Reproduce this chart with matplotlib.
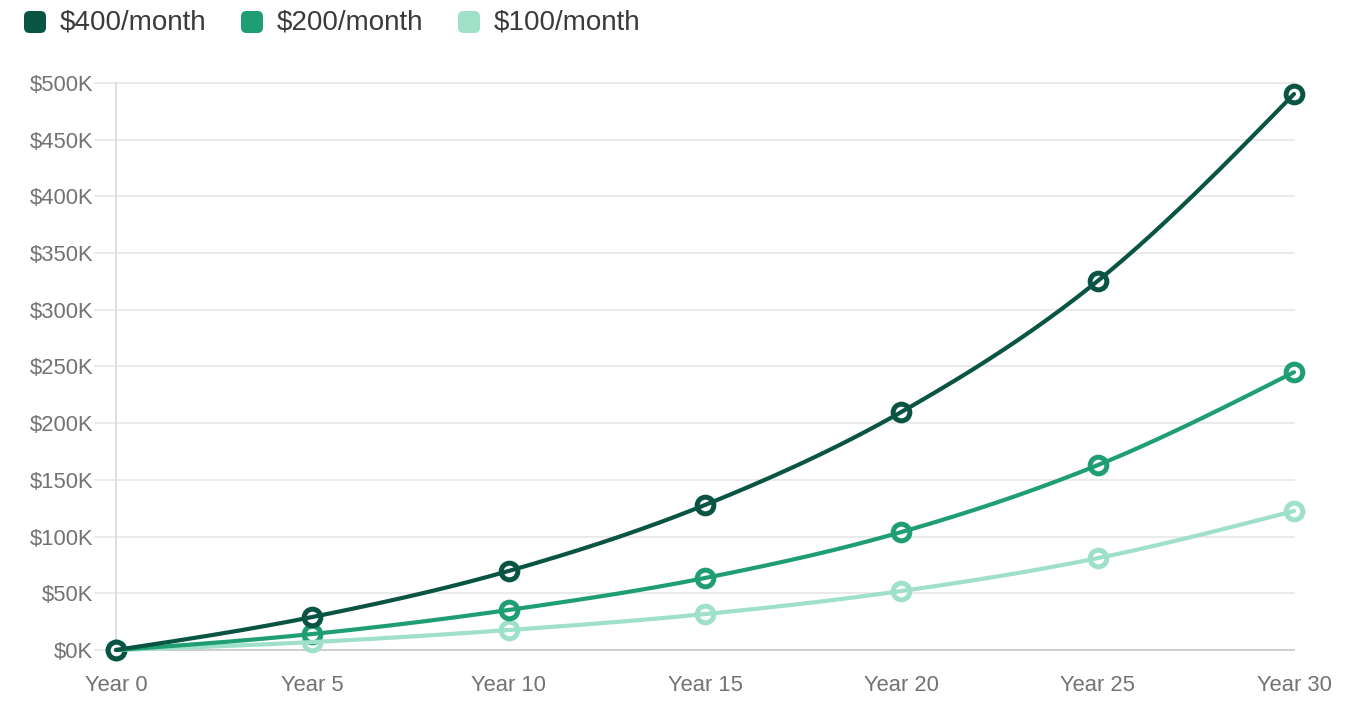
import numpy as np
import matplotlib
matplotlib.use("Agg")
import matplotlib.pyplot as plt
from matplotlib.patches import FancyBboxPatch

# ---- data ----
years = [0, 5, 10, 15, 20, 25, 30]
x_labels = ["Year 0", "Year 5", "Year 10", "Year 15", "Year 20", "Year 25", "Year 30"]
series_names = ["$400/month", "$200/month", "$100/month"]
vals_400 = [0, 29.1, 69.7, 127.9, 209.9, 325.4, 490.3]   # $K
vals_200 = [0, 14.1, 35.3, 63.5, 104.0, 163.0, 245.0]
vals_100 = [0, 7.0, 17.6, 31.7, 52.0, 81.0, 122.6]
y_ticks = [0, 50, 100, 150, 200, 250, 300, 350, 400, 450, 500]
colors = ["#0a5444", "#1f9e74", "#9ee0c8"]


def monotone_x(x, y, n=40):
    """Monotone cubic interpolation (like d3.curveMonotoneX) for drawing."""
    x = np.asarray(x, float); y = np.asarray(y, float)
    h = np.diff(x); s = np.diff(y) / h
    m = np.zeros_like(y)
    for i in range(1, len(x) - 1):
        if s[i - 1] * s[i] <= 0:
            m[i] = 0
        else:
            p = (s[i - 1] * h[i] + s[i] * h[i - 1]) / (h[i - 1] + h[i])
            m[i] = (np.sign(s[i - 1]) + np.sign(s[i])) * min(abs(s[i - 1]), abs(s[i]), 0.5 * abs(p))
    m[0] = (3 * s[0] - m[1]) / 2
    m[-1] = (3 * s[-1] - m[-2]) / 2
    xs, ys = [], []
    for i in range(len(x) - 1):
        t = np.linspace(0, 1, n)
        h00 = 2 * t**3 - 3 * t**2 + 1
        h10 = t**3 - 2 * t**2 + t
        h01 = -2 * t**3 + 3 * t**2
        h11 = t**3 - t**2
        xs.append(x[i] + t * h[i])
        ys.append(h00 * y[i] + h10 * h[i] * m[i] + h01 * y[i + 1] + h11 * h[i] * m[i + 1])
    return np.concatenate(xs), np.concatenate(ys)


W, H = 1369, 706
fig = plt.figure(figsize=(W / 100, H / 100), dpi=100)
L, R, T, B = 116, 1294, 83, 650
ax = fig.add_axes([L / W, 1 - B / H, (R - L) / W, (B - T) / H])

ax.set_xlim(0, 30)
ax.set_ylim(0, 500)

grid_c = "#e8e8e8"
for yt in y_ticks:
    ax.axhline(yt, color=grid_c, lw=1.3, zorder=0, clip_on=False)
for sp in ["top", "right"]:
    ax.spines[sp].set_visible(False)
ax.spines["left"].set_color("#dddddd")
ax.spines["left"].set_linewidth(1.3)
ax.spines["bottom"].set_color("#cccccc")
ax.spines["bottom"].set_linewidth(1.3)

tick_font = "Liberation Sans"
ax.set_yticks(y_ticks)
ax.set_yticklabels([f"${v}K" for v in y_ticks], fontsize=15.8, color="#737373", family=tick_font)
ax.tick_params(axis="y", length=16, width=1.3, color=grid_c, pad=0.5)
ax.set_xticks(years)
ax.set_xticklabels(x_labels, fontsize=15.8, color="#737373", family=tick_font)
ax.tick_params(axis="x", length=0, pad=18)

for vals, c in zip([vals_100, vals_200, vals_400], colors[::-1]):
    xs, ys = monotone_x(years, vals)
    ax.plot(years, vals, "o", ms=12, mfc="white", mec=c, mew=3.6, zorder=3, clip_on=False)
    ax.plot(xs, ys, color=c, lw=3, zorder=4, solid_capstyle="round", clip_on=False)

# legend
leg_sq_x = [24, 241, 458]
for name, c, sx in zip(series_names, colors, leg_sq_x):
    sz = 22
    p = FancyBboxPatch((sx / W, 1 - (22 + sz / 2) / H), sz / W, sz / H,
                       boxstyle="round,pad=0,rounding_size=0.004",
                       transform=fig.transFigure, facecolor=c, edgecolor="none",
                       mutation_aspect=W / H)
    fig.patches.append(p)
    fig.text((sx + 36) / W, 1 - 23 / H, name, fontsize=20, color="#3a3a3a",
             va="center", ha="left", family="Liberation Sans")

fig.savefig("out.png", dpi=100)
